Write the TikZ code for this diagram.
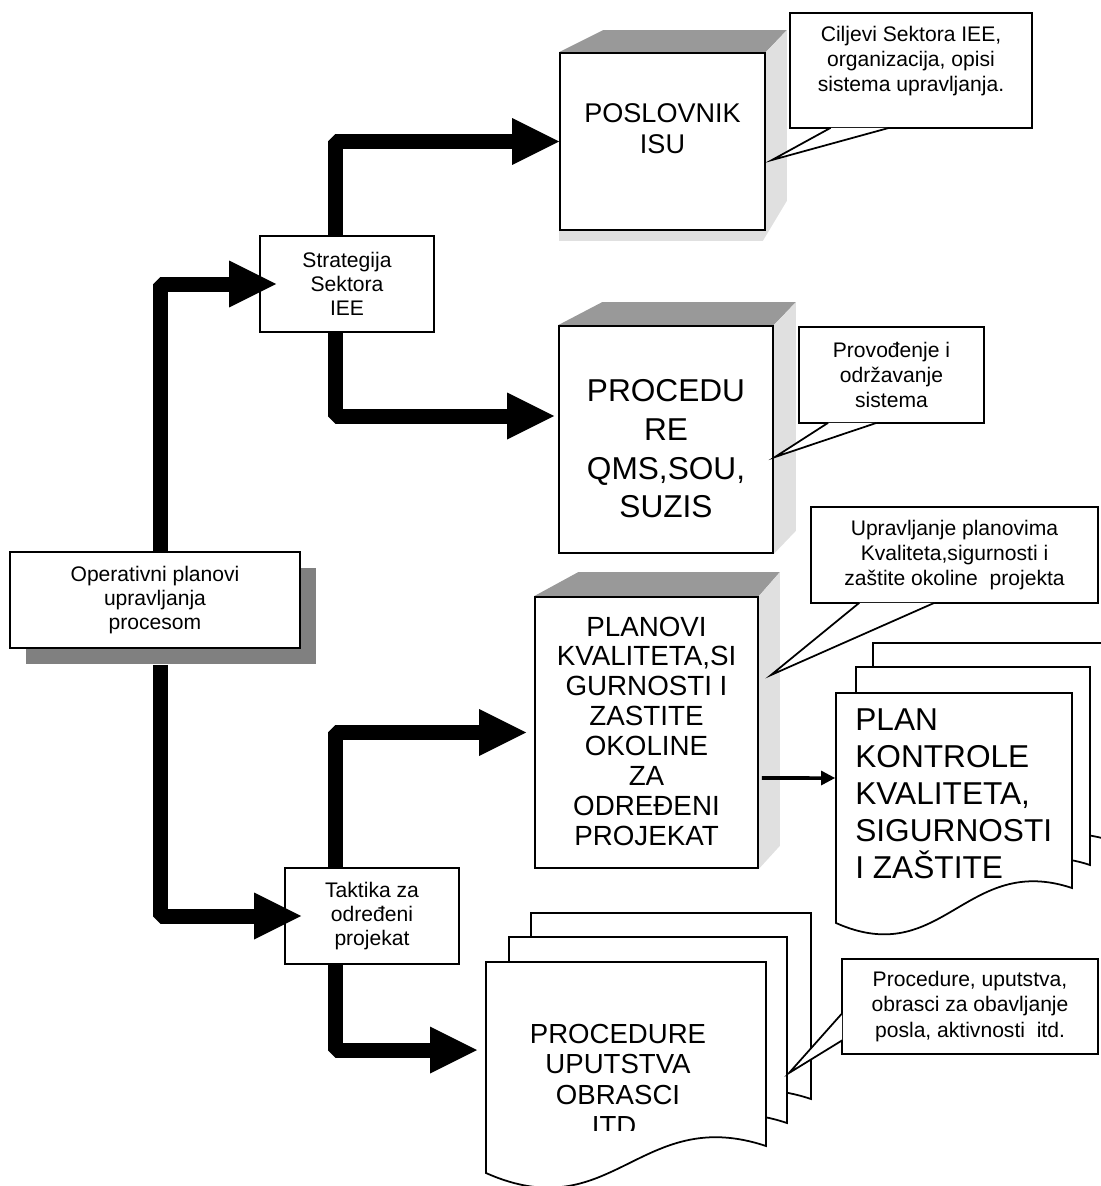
\documentclass[tikz,border=0pt]{standalone}
\usepackage{fontspec}
\setmainfont{Liberation Sans}
\usetikzlibrary{calc, backgrounds, shadows, arrows.meta}

\definecolor{topgray}{HTML}{999999}
\definecolor{sidegray}{HTML}{E0E0E0}
\definecolor{shadowgray}{HTML}{808080}

\tikzset{
  box/.style={draw, line width=1pt, fill=white, inner sep=0pt, align=center, font=\fontsize{12}{13.6}\selectfont},
  calltext/.style={align=center, inner sep=0pt, font=\fontsize{12}{14.4}\selectfont},
  face/.style={draw, line width=1pt, fill=white, inner sep=0pt},
  page/.style={draw, line width=1pt, fill=white},
  tipline/.style={draw, line width=1pt, fill=white},
  fat/.style={line width=0.3cm, line join=bevel, -{Triangle[length=0.94cm, width=0.94cm, line width=0pt]}},
  slim/.style={line width=2pt, -{Triangle[length=0.28cm, width=0.3cm, line width=0pt]}}
}

% left, top, right, right bottom, left bottom
\newcommand{\docpage}[5]{%
  \path[page] (#1,#5) -- (#1,#2) -- (#3,#2) -- (#3,#4)
    .. controls ({#1+0.55*(#3-#1)},{#4-0.15*(#3-#1)}) and ({#1+0.45*(#3-#1)},{#5+0.2*(#3-#1)}) .. (#1,#5) -- cycle;}

\begin{document}
\begin{tikzpicture}[x=0.02cm, y=-0.02cm]
  \useasboundingbox (0,0) rectangle (1100,1186);

  % plain boxes
  \node[box, minimum width=5.8cm, minimum height=1.92cm,
        drop shadow={shadow xshift=0.32cm, shadow yshift=-0.32cm, fill=shadowgray, opacity=1}]
        (op) at (155,600) {Operativni planovi\\upravljanja\\procesom};
  \node[box, minimum width=3.48cm, minimum height=1.92cm] (strat) at (347,284) {Strategija\\Sektora\\IEE};
  \node[box, minimum width=3.48cm, minimum height=1.92cm] (tak) at (372,916) {Taktika za\\određeni\\projekat};

  % solid boxes
  \node[face, minimum width=4.1cm, minimum height=3.54cm] (posl) at (662.5,141.5) {};
  \node[face, minimum width=4.28cm, minimum height=4.54cm] (proc) at (666,439.5) {};
  \node[face, minimum width=4.46cm, minimum height=5.42cm] (plan) at (646.5,732.5) {};

  \begin{scope}[on background layer]
    \fill[topgray] (posl.north west) -- ++(44,-22) -- ($(posl.north east)+(21,-22)$) -- (posl.north east) -- cycle;
    \fill[sidegray] (posl.north east) -- ++(21,-22) -- ($(posl.south east)+(21,-30)$) -- ($(posl.south east)+(-3,10)$)
      -- ($(posl.south west)+(0,10)$) -- (posl.south west) -- cycle;
    \fill[topgray] (proc.north west) -- ++(44,-23) -- ($(proc.north east)+(22,-23)$) -- (proc.north east) -- cycle;
    \fill[sidegray] (proc.north east) -- ++(22,-23) -- ($(proc.south east)+(22,-23)$) -- (proc.south east) -- cycle;
    \fill[topgray] (plan.north west) -- ++(44,-24) -- ($(plan.north east)+(21,-24)$) -- (plan.north east) -- cycle;
    \fill[sidegray] (plan.north east) -- ++(21,-24) -- ($(plan.south east)+(21,-23)$) -- (plan.south east) -- cycle;
  \end{scope}

  \node[font=\fontsize{15.4}{17.5}\selectfont, align=center] (poslt) at (posl.center) [yshift=0.26cm] {POSLOVNIK\\ISU};
  \node[font=\fontsize{18}{22}\selectfont, align=center] (proct) at (666,449) {PROCEDU\\RE\\QMS,SOU,\\SUZIS};
  \node[font=\fontsize{15.8}{17}\selectfont, align=center] (plant) at (646.5,731)
    {PLANOVI\\KVALITETA,SI\\GURNOSTI I\\ZASTITE\\OKOLINE\\ZA\\ODREĐENI\\PROJEKAT};

  % document stacks
  \docpage{873}{643}{1112}{841}{876}
  \docpage{856}{667}{1090}{865}{900}
  \docpage{836}{693}{1072}{888}{923}
  \node[font=\fontsize{18}{21}\selectfont, align=left, anchor=west, inner sep=0pt] (pkt) at (855,794)
    {PLAN\\KONTROLE\\KVALITETA,\\SIGURNOSTI\\I ZAŠTITE};
  \coordinate (pk) at (835,778);

  \docpage{531}{913}{811}{1099}{1126}
  \docpage{509}{937}{787}{1123}{1150}
  \docpage{486}{962}{766}{1146}{1173}
  \begin{scope}
    \clip (486,950) rectangle (766,1130);
    \node[font=\fontsize{15.7}{17.5}\selectfont, align=center] (prt) at (618,1079.5) {PROCEDURE\\UPUTSTVA\\OBRASCI\\ITD.};
  \end{scope}
  \coordinate (pr) at (477,1050);

  % callouts
  \node[face, minimum width=4.84cm, minimum height=2.3cm] (c1) at (911,70.5) {};
  \node[calltext] (c1t) at (911,61) {Ciljevi Sektora IEE,\\organizacija, opisi\\sistema upravljanja.};
  \coordinate (t1) at (772,160);
  \path[tipline] ($(c1.south west)!0.17!(c1.south east)+(0,-1)$) -- (t1) -- ($(c1.south west)!0.41!(c1.south east)+(0,-1)$);

  \node[face, minimum width=3.7cm, minimum height=1.92cm] (c2) at (891.5,375) {};
  \node[calltext] (c2t) at (c2.center) {Provođenje i\\održavanje\\sistema};
  \coordinate (t2) at (775,457);
  \path[tipline] ($(c2.south west)!0.16!(c2.south east)+(0,-1)$) -- (t2) -- ($(c2.south west)!0.42!(c2.south east)+(0,-1)$);

  \node[face, minimum width=5.74cm, minimum height=1.92cm] (c3) at (954.5,555) {};
  \node[calltext] (c3t) at (c3.center) {Upravljanje planovima\\Kvaliteta,sigurnosti i\\zaštite okoline\ \ projekta};
  \coordinate (t3) at (771,675);
  \path[tipline] ($(c3.south west)!0.17!(c3.south east)+(0,-1)$) -- (t3) -- ($(c3.south west)!0.43!(c3.south east)+(0,-1)$);

  \node[face, minimum width=5.12cm, minimum height=1.9cm] (c4) at (970,1006.5) {};
  \node[calltext] (c4t) at (c4.center) {Procedure, uputstva,\\obrasci za obavljanje\\posla, aktivnosti\ \ itd.};
  \coordinate (t4) at (789,1073);
  \path[tipline] ($(c4.north west)!0.57!(c4.south west)+(1,0)$) -- (t4) -- ($(c4.north west)!0.85!(c4.south west)+(1,0)$);

  % thick arrows
  \draw[fat] ([xshift=0.1cm]op.north) |- ([xshift=0.34cm]strat.west);
  \draw[fat] ([xshift=-0.24cm]strat.north) |- (posl.west);
  \draw[fat] ([xshift=-0.24cm]strat.south) |- ([shift={(-0.08cm,0.47cm)}]proc.west);
  \draw[fat] ([shift={(0.1cm,-0.32cm)}]op.south) |- ([xshift=0.34cm]tak.west);
  \draw[fat] ([xshift=-0.74cm]tak.north) |- ([xshift=-0.16cm]plan.west);
  \draw[fat] ([xshift=-0.74cm]tak.south) |- (pr);

  \draw[slim] ([shift={(0.06cm,-0.91cm)}]plan.east) -- (pk);
\end{tikzpicture}
\end{document}
